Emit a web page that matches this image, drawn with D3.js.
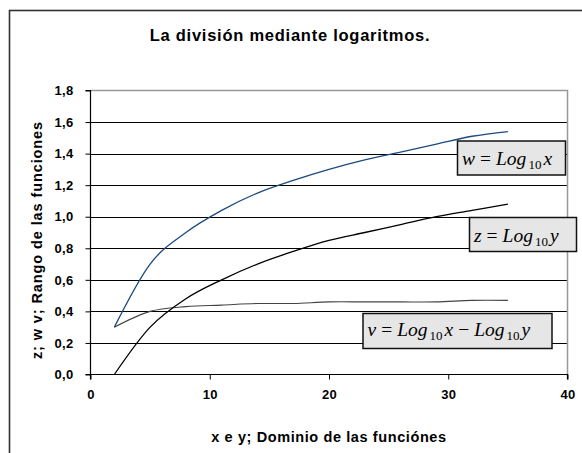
<!DOCTYPE html>
<html>
<head>
<meta charset="utf-8">
<script src="https://cdn.jsdelivr.net/npm/d3@7"></script>
<style>
  body { margin: 0; background: #fff; }
  svg { display: block; font-family: Arial, "Liberation Sans", sans-serif; }
</style>
</head>
<body>
<div class="container"></div>
<script>
// values
var xs = [2, 5, 8, 11, 14, 17, 20, 23, 26, 29, 32, 35];
var wVals = [0.30, 0.70, 0.90, 1.04, 1.15, 1.23, 1.30, 1.36, 1.41, 1.46, 1.51, 1.54];
var zVals = [0.00, 0.30, 0.48, 0.60, 0.70, 0.78, 0.85, 0.90, 0.95, 1.00, 1.04, 1.08];
var vVals = [0.30, 0.40, 0.43, 0.44, 0.45, 0.45, 0.46, 0.46, 0.46, 0.46, 0.47, 0.47];
var xTicks = [0, 10, 20, 30, 40];
var yTicks = [0, 0.2, 0.4, 0.6, 0.8, 1.0, 1.2, 1.4, 1.6, 1.8];

var width = 582, height = 453;
var svg = d3.select(".container").append("svg")
  .attr("width", width).attr("height", height);

// outer chart frame (runs off the right/bottom edge like the picture)
svg.append("rect")
  .attr("x", 9.5).attr("y", 10.5)
  .attr("width", 600).attr("height", 460)
  .attr("fill", "#fff").attr("stroke", "#333").attr("stroke-width", 1.6);

svg.append("text")
  .attr("x", 290).attr("y", 41)
  .attr("text-anchor", "middle")
  .style("font-weight", "bold").style("font-size", "16.5px").style("letter-spacing", "0.75px")
  .text("La división mediante logaritmos.");

var x = d3.scaleLinear().domain([0, 40]).range([90.5, 567.5]);
var y = d3.scaleLinear().domain([0, 1.8]).range([374.5, 90.5]);

// gridlines
svg.append("g")
  .selectAll("line")
  .data(yTicks.filter(function(d) { return d > 0 && d < 1.8; }))
  .enter().append("line")
  .attr("x1", x(0)).attr("x2", x(40))
  .attr("y1", function(d) { return Math.round(y(d)) + 0.5; })
  .attr("y2", function(d) { return Math.round(y(d)) + 0.5; })
  .attr("stroke", "#000").attr("stroke-width", 1);

// plot area border, top and right
svg.append("path")
  .attr("d", "M" + x(0) + "," + y(1.8) + "H" + x(40) + "V" + y(0))
  .attr("fill", "none").attr("stroke", "#999").attr("stroke-width", 1.5);

var fmt = function(d) { return d3.format(".1f")(d).replace(".", ","); };

var yAxis = svg.append("g")
  .attr("transform", "translate(" + x(0) + ",0)")
  .call(d3.axisLeft(y).tickValues(yTicks).tickFormat(fmt).tickSize(5).tickPadding(12));

var xAxis = svg.append("g")
  .attr("transform", "translate(0," + y(0) + ")")
  .call(d3.axisBottom(x).tickValues(xTicks).tickSize(5).tickPadding(10));

[xAxis, yAxis].forEach(function(a) {
  a.select(".domain").attr("stroke", "#000").attr("stroke-width", 1.2);
  a.selectAll(".tick line").attr("stroke", "#000");
  a.selectAll("text")
    .style("font-family", "Arial, 'Liberation Sans', sans-serif")
    .style("font-weight", "bold").style("font-size", "13px")
    .style("letter-spacing", "0.3px").attr("fill", "#000");
});
xAxis.select(".domain").attr("d", "M" + x(0) + ",5V0H" + x(40) + "V5");
yAxis.select(".domain").attr("d", "M-5," + y(0) + "H0V" + y(1.8) + "H-5");

// axis titles
svg.append("text")
  .attr("x", 329).attr("y", 442)
  .attr("text-anchor", "middle")
  .style("font-weight", "bold").style("font-size", "14.5px").style("letter-spacing", "0.6px")
  .text("x e y; Dominio de las funciónes");

svg.append("text")
  .attr("transform", "translate(42,240) rotate(-90)")
  .attr("text-anchor", "middle")
  .style("font-weight", "bold").style("font-size", "14.5px").style("letter-spacing", "0.9px")
  .text("z; w v; Rango de las funciones");

// smoothed lines, like Excel's smoothed line option
var line = d3.line()
  .x(function(d) { return x(d[0]); })
  .y(function(d) { return y(d[1]); })
  .curve(d3.curveCardinal.tension(0));

var series = [
  { vals: vVals, color: "#444", w: 1.1 },
  { vals: zVals, color: "#000", w: 1.3 },
  { vals: wVals, color: "#1b4a7e", w: 1.3 }
];

svg.append("g").selectAll("path")
  .data(series)
  .enter().append("path")
  .attr("d", function(s) { return line(xs.map(function(xv, i) { return [xv, s.vals[i]]; })); })
  .attr("fill", "none")
  .attr("stroke", function(s) { return s.color; })
  .attr("stroke-width", function(s) { return s.w; })
  .attr("stroke-linejoin", "round");

// formula boxes
var boxes = [
  { x0: 457.5, y0: 141, w: 108, h: 34, base: 24, parts: [["w", ""], ["=", "op"], ["Log", "op"], ["10", "sub"], ["x", ""]] },
  { x0: 469.5, y0: 217.5, w: 107, h: 34, base: 24.5, parts: [["z", ""], ["=", "op"], ["Log", "op"], ["10", "sub"], ["y", ""]] },
  { x0: 363, y0: 313.5, w: 189, h: 35, base: 22.5, parts: [["v", ""], ["=", "op"], ["Log", "op"], ["10", "sub"], ["x", ""], ["\u2212", "op"], ["Log", "op"], ["10", "sub"], ["y", ""]] }
];

var bg = svg.append("g").selectAll("g")
  .data(boxes)
  .enter().append("g");

bg.append("rect")
  .attr("x", function(d) { return d.x0; })
  .attr("y", function(d) { return d.y0; })
  .attr("width", function(d) { return d.w; })
  .attr("height", function(d) { return d.h; })
  .attr("fill", "#e6e6e6").attr("stroke", "#111").attr("stroke-width", 1.5);

var txt = bg.append("text")
  .attr("x", function(d) { return d.x0 + 4.5; })
  .attr("y", function(d) { return d.y0 + d.base; })
  .style("font-family", "'Liberation Serif', 'DejaVu Serif', serif")
  .style("font-style", "italic").style("font-size", "19.5px").attr("fill", "#000");

txt.each(function(d) {
  var t = d3.select(this);
  var lowered = false;
  d.parts.forEach(function(p, i) {
    var sp = t.append("tspan").text(p[0]);
    var dy = 0;
    if (p[1] === "sub") {
      sp.style("font-style", "normal").style("font-size", "13px").attr("dx", 2);
      dy = 3.5; lowered = true;
    } else {
      if (lowered) { dy = -3.5; lowered = false; }
      if (p[1] === "op") {
        sp.attr("dx", 5);
        if (p[0] === "=" || p[0] === "\u2212") sp.style("font-style", "normal");
      } else if (i > 0) {
        sp.attr("dx", 2);
      }
    }
    if (dy) sp.attr("dy", dy);
  });
});
</script>
</body>
</html>
